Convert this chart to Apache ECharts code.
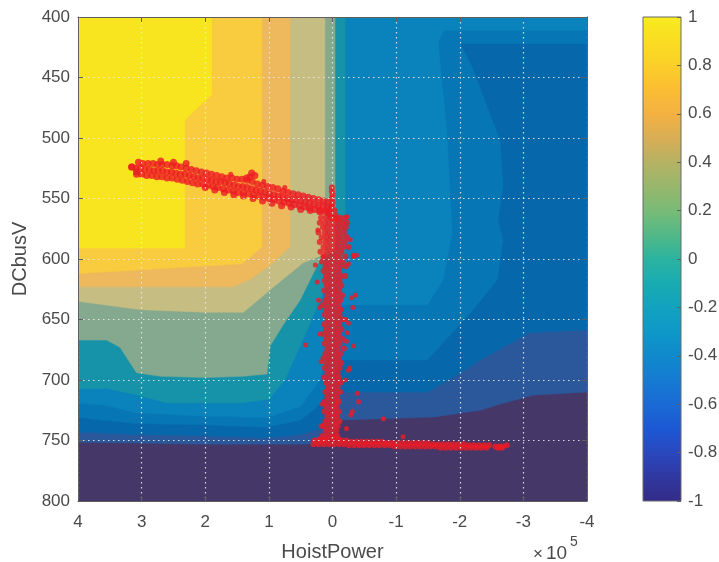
<!DOCTYPE html>
<html><head><meta charset="utf-8">
<script src="https://cdn.jsdelivr.net/npm/echarts@6/dist/echarts.min.js"></script>
<style>html,body{margin:0;padding:0;background:#fff}#c{width:719px;height:562px}</style>
</head><body><div id="c"></div>
<script>
// ---------- axes / tick labels ----------
const xTickLabels = [4, 3, 2, 1, 0, -1, -2, -3, -4];          // HoistPower (x 10^5)
const yTickLabels = [400, 450, 500, 550, 600, 650, 700, 750, 800]; // DCbusV
const colorbarTicks = [1, 0.8, 0.6, 0.4, 0.2, 0, -0.2, -0.4, -0.6, -0.8, -1];

// ---------- filled contour regions (superlevel sets, [HoistPower x1e5, DCbusV]) ----------
const regionLowest = [[4,400],[-4,400],[-4,800],[4,800]];
const regionDarkBlue = [[4,400],[-4,400],[-4,710],[-3.15,712.5],[-2.63,720],[-2.32,725],[-1.6,730.5],[-0.15,733],[0.1,752],[0.5,753],[1.03,753],[2,753],[3.1,752],[4,751.5]];
const regionBlue = [[4,400],[-4,400],[-4,658.6],[-3.1,661],[-2.32,683.5],[-1.9,698],[-1.49,710],[-0.15,710],[0.2,740],[0.5,745],[1.03,748],[2,746],[3.1,745],[4,743]];
const regionMidBlue = [[4,400],[-4,400],[-4,422],[-2.0,422],[-2.19,441],[-2.63,502],[-2.68,540],[-2.6,568],[-2.68,584],[-2.59,617],[-2.21,642],[-1.49,683.5],[-0.15,683.5],[0.2,720],[0.5,733],[1.03,739],[2,737],[3.1,736],[4,731]];
const regionLightBlue = [[4,400],[-4,400],[-4,411],[-1.75,411],[-1.66,421],[-1.8,496],[-1.88,578],[-1.74,617],[-1.49,638],[-0.15,638],[0.2,700],[0.5,722],[1.03,731],[2,730],[3.1,727],[3.55,721],[4,719]];
const regionTeal = [[4,400],[-0.2,400],[-0.2,598],[0.15,628],[0.45,665],[0.75,700],[1.0,716],[1.45,719],[2.6,719],[3.1,712],[3.55,707],[4,707]];
const regionSage = [[4,400],[-0.04,400],[-0.04,592],[0.2,601],[0.51,634],[0.77,654],[0.98,672],[1.03,695],[1.41,697],[2,698],[2.7,697],[3.08,694],[3.34,673],[3.55,667],[4,667]];
const regionKhaki = [[4,400],[0.12,400],[0.12,596],[0.46,603],[0.9,622],[1.4,644],[2,644],[3,642],[4,635]];
const regionOrange = [[4,400],[0.67,400],[0.67,590],[1.0,606],[1.3,617],[1.56,623],[4,623]];
const regionGold = [[4,400],[1.11,400],[1.11,590],[1.42,604],[4,612]];
const regionYellow = [[4,400],[1.9,400],[1.9,464],[2.32,485],[2.32,591],[4,591]];

// ---------- measured operating points [HoistPower x1e5, DCbusV] ----------
const bandCenter = [[3.15,524],[3.09,525],[3.02,525],[2.95,526],[2.88,526],[2.81,527],[2.74,527],[2.67,527],[2.6,528],[2.53,528],[2.46,529],[2.39,530],[2.32,530],[2.25,531],[2.18,532],[2.11,533],[2.04,533],[1.97,534],[1.9,535],[1.83,536],[1.76,536],[1.69,537],[1.62,538],[1.55,539],[1.48,540],[1.41,540],[1.34,541],[1.27,542],[1.2,543],[1.13,544],[1.06,545],[0.99,546],[0.92,547],[0.85,548],[0.78,549],[0.71,550],[0.64,551],[0.57,551],[0.5,552],[0.43,553],[0.36,554],[0.29,555],[0.22,556],[0.15,556],[0.08,557],[0.02,558]];
const bandUpper = [[3.05,520],[2.98,521],[2.9,521],[2.82,521],[2.75,522],[2.68,522],[2.6,522],[2.52,523],[2.45,523],[2.38,524],[2.3,525],[2.22,526],[2.14,527],[2.06,528],[1.98,529],[1.9,530],[1.82,531],[1.74,532],[1.66,533],[1.58,533],[1.5,534],[1.42,534],[1.34,535],[1.26,536],[1.18,538],[1.1,539],[1.02,540],[0.94,541],[0.86,542],[0.78,544],[0.7,545],[0.62,546],[0.54,547],[0.46,548],[0.38,549],[0.3,550],[0.22,551],[0.14,552],[0.07,553]];
const bandLower = [[3.08,530],[3.0,530],[2.92,531],[2.84,531],[2.76,532],[2.68,532],[2.6,533],[2.52,533],[2.44,534],[2.36,535],[2.28,536],[2.2,537],[2.12,538],[2.04,538],[1.96,539],[1.88,540],[1.8,541],[1.72,542],[1.64,543],[1.56,544],[1.48,545],[1.4,545],[1.32,546],[1.24,547],[1.16,548],[1.08,549],[1.0,550],[0.92,551],[0.84,552],[0.76,553],[0.68,554],[0.6,555],[0.52,556],[0.44,557],[0.36,558],[0.28,559],[0.2,560],[0.12,561],[0.05,562]];
const bandEdge = [[2.0,541],[1.85,543],[1.7,545],[1.55,547],[1.4,548],[1.25,550],[1.1,552],[0.95,554],[0.8,556],[0.65,557],[0.5,559],[0.35,560],[0.2,561],[1.3,532],[1.22,531],[1.27,529],[1.35,533],[2.3,521],[2.5,520],[2.7,519],[3.16,524],[3.08,528]];
const spikePoints = [[0.01,541],[0.01,544],[0.0,547],[0.01,550],[0.0,553],[0.01,556],[0.1,560],[0.05,563],[-0.03,560],[-0.05,564],[0.0,566],[-0.08,567]];
const columnRows = [
  [566,[0.18,0.1,0.03,-0.05,-0.12,-0.2]],[570,[0.2,0.12,0.05,-0.02,-0.09,-0.16,-0.23]],
  [574,[0.15,0.08,0.0,-0.07,-0.14,-0.21]],[578,[0.22,0.12,0.05,-0.03,-0.1,-0.18]],
  [582,[0.17,0.09,0.02,-0.06,-0.13,-0.22]],[586,[0.2,0.11,0.03,-0.04,-0.11,-0.19]],
  [590,[0.14,0.06,-0.02,-0.09,-0.17,-0.25]],[594,[0.19,0.1,0.02,-0.06,-0.14]],
  [598,[0.13,0.05,-0.03,-0.1,-0.2]],[602,[0.16,0.08,0.0,-0.08,-0.15]],
  [606,[0.11,0.04,-0.04,-0.12,-0.21]],[610,[0.14,0.06,-0.02,-0.1]],
  [614,[0.1,0.03,-0.05,-0.13,-0.2]],[618,[0.12,0.04,-0.04,-0.11]],
  [622,[0.09,0.02,-0.06,-0.14]],[626,[0.13,0.05,-0.03,-0.1]],
  [630,[0.08,0.0,-0.07,-0.15]],[634,[0.11,0.03,-0.05,-0.12]],
  [638,[0.15,0.07,-0.01,-0.09]],[642,[0.1,0.02,-0.06,-0.13]],
  [646,[0.12,0.04,-0.04,-0.11]],[650,[0.08,0.0,-0.08,-0.16]],
  [654,[0.13,0.05,-0.03,-0.1]],[658,[0.1,0.02,-0.06,-0.14]],
  [662,[0.14,0.06,-0.02,-0.09]],[666,[0.09,0.01,-0.07,-0.15]],
  [670,[0.12,0.04,-0.04,-0.11]],[674,[0.08,0.0,-0.08,-0.18]],
  [678,[0.11,0.03,-0.05,-0.12]],[682,[0.14,0.06,-0.02,-0.09]],
  [686,[0.09,0.01,-0.07,-0.14]],[690,[0.12,0.04,-0.04,-0.11]],
  [694,[0.08,0.0,-0.08]],[698,[0.13,0.05,-0.03,-0.1]],
  [702,[0.1,0.02,-0.06,-0.13]],[706,[0.07,0.0,-0.08]],
  [710,[0.11,0.03,-0.05,-0.12]],[714,[0.08,0.0,-0.07]],
  [718,[0.12,0.04,-0.04,-0.1]],[722,[0.09,0.01,-0.06]],
  [726,[0.13,0.05,-0.03,-0.1]],[730,[0.08,0.0,-0.07]],
  [734,[0.11,0.03,-0.05,-0.11]],[738,[0.14,0.06,-0.02,-0.08]],
  [742,[0.1,0.02,-0.06]],[746,[0.15,0.07,0.0,-0.07]],
  [749,[0.2,0.12,0.05,-0.02,-0.09]]
];
const lineUpper = [[0.28,750],[0.2,750],[0.12,750],[-0.14,750],[-0.22,750],[-0.3,751],[-0.38,751],[-0.46,751],[-0.54,751],[-0.62,751],[-0.7,751],[-0.78,751],[-0.86,752],[-0.94,752],[-1.02,752],[-1.1,752],[-1.18,752],[-1.26,752],[-1.34,752],[-1.42,752],[-1.5,752],[-1.58,753],[-1.66,753],[-1.74,753],[-1.82,753],[-1.9,753],[-1.98,753],[-2.06,753],[-2.14,754],[-2.22,754],[-2.3,754],[-2.38,754],[-2.46,754]];
const lineLower = [[0.3,753],[0.22,753],[0.14,753],[0.06,753],[-0.02,753],[-0.1,753],[-0.18,753],[-0.26,754],[-0.34,754],[-0.42,754],[-0.5,754],[-0.58,754],[-0.66,754],[-0.74,754],[-0.82,754],[-0.9,754],[-0.98,755],[-1.06,755],[-1.14,755],[-1.22,755],[-1.3,755],[-1.38,755],[-1.46,755],[-1.54,755],[-1.62,755],[-1.7,756],[-1.78,756],[-1.86,756],[-1.94,756],[-2.02,756],[-2.1,756],[-2.18,756],[-2.26,756],[-2.34,756],[-2.42,756]];
const lineEnd = [[-2.56,755],[-2.62,755],[-2.68,755],[-2.74,754],[-2.6,756],[-2.66,756]];
const outlierPoints = [[0.42,671],[0.27,605],[0.24,619],[-0.23,565],[-0.28,584],[-0.38,597],[-0.33,597],[-0.25,604],[0.23,576],[0.15,598],[-0.8,732],[-1.11,747],[-0.39,711],[-0.41,718],[-0.31,726],[-0.29,729],[-0.33,672],[-0.25,692],[-0.27,690],[-0.23,661],[-0.36,630],[-0.3,632],[-0.32,640],[-0.21,650],[0.2,640],[0.22,634],[0.2,662],[0.18,685],[0.16,720],[0.18,738],[-0.2,700],[-0.22,740],[-0.22,668],[-0.25,653],[1.08,536],[0.75,541],[1.6,530],[-0.33,598]];

// ---------- styles ----------
const fillRegions = [regionLowest, regionDarkBlue, regionBlue, regionMidBlue, regionLightBlue, regionTeal, regionSage, regionKhaki, regionOrange, regionGold, regionYellow];
const fillColors = ['#463769','#2a589b','#0668aa','#0676b4','#0a82bb','#1693a8','#84a98e','#c6bd82','#eeb85c','#f9cb3e','#f8e51f'];
const colorbarStops = [
  [1,'#f7ec1f'],[0.9,'#fadd22'],[0.8,'#fbcf28'],[0.7,'#fbbd33'],[0.6,'#f4b142'],[0.5,'#d9ae55'],
  [0.4,'#b6b264'],[0.3,'#98b76c'],[0.2,'#78bb77'],[0.1,'#52b987'],[0,'#2cb3a0'],[-0.1,'#18acb1'],
  [-0.2,'#12a2bf'],[-0.3,'#0e98c9'],[-0.4,'#1089cc'],[-0.5,'#157bd2'],[-0.6,'#1a6ad4'],[-0.7,'#1c58d4'],
  [-0.8,'#2a47bd'],[-0.9,'#3038a0'],[-1,'#342b88']
];

const bandPoints = [].concat(bandCenter, bandUpper, bandLower, bandEdge);
const columnPoints = [].concat(spikePoints);
columnRows.forEach(([v, xs]) => xs.forEach(x => columnPoints.push([x, v])));
const linePoints = [].concat(lineUpper, lineLower, lineEnd);

const TXT = '#4a4a4a', AX = '#5f5f5f', FONT = '"Liberation Sans", Arial, sans-serif', RED = '#ec1c24';
const gridLine = { show: true, lineStyle: { color: 'rgba(235,235,235,0.9)', width: 1.2, type: [1.5, 3.5] } };
const frameLine = { show: true, onZero: false, lineStyle: { color: AX, width: 1 } };
const inTick = { show: true, inside: true, length: 5, lineStyle: { color: AX } };

const chart = echarts.init(document.getElementById('c'), null, { renderer: 'canvas' });
chart.setOption({
  animation: false,
  textStyle: { fontFamily: FONT },
  grid: [
    { left: 78, top: 17, width: 509, height: 484, containLabel: false, outerBoundsMode: 'none' },
    { left: 643, top: 17, width: 38, height: 484, containLabel: false, outerBoundsMode: 'none' }
  ],
  xAxis: [
    { type: 'value', gridIndex: 0, min: xTickLabels[8], max: xTickLabels[0], interval: 1, inverse: true, z: 10,
      name: 'HoistPower', nameLocation: 'middle', nameGap: 41,
      nameTextStyle: { fontSize: 20, color: TXT, fontFamily: FONT },
      axisLine: frameLine, axisTick: inTick,
      axisLabel: { fontSize: 17, color: TXT, margin: 13, fontFamily: FONT },
      splitLine: gridLine },
    { type: 'value', gridIndex: 0, position: 'top', min: -4, max: 4, interval: 1, inverse: true, z: 10,
      axisLine: frameLine, axisTick: inTick,
      axisLabel: { show: false }, splitLine: { show: false } },
    { type: 'value', gridIndex: 1, min: 0, max: 1, show: false }
  ],
  yAxis: [
    { type: 'value', gridIndex: 0, min: yTickLabels[0], max: yTickLabels[8], interval: 50, inverse: true, z: 10,
      name: 'DCbusV', nameLocation: 'middle', nameGap: 47, nameRotate: 90,
      nameTextStyle: { fontSize: 20, color: TXT, fontFamily: FONT },
      axisLine: frameLine, axisTick: inTick,
      axisLabel: { fontSize: 17, color: TXT, margin: 8, fontFamily: FONT },
      splitLine: gridLine },
    { type: 'value', gridIndex: 0, position: 'right', min: 400, max: 800, interval: 50, inverse: true, z: 10,
      axisLine: frameLine, axisTick: inTick,
      axisLabel: { show: false }, splitLine: { show: false } },
    { type: 'value', gridIndex: 1, position: 'right', min: colorbarTicks[10], max: colorbarTicks[0], interval: 0.2, z: 10,
      axisLine: { show: false, onZero: false },
      axisTick: { show: true, inside: true, length: 4, lineStyle: { color: AX } },
      axisLabel: { fontSize: 17, color: TXT, margin: 7, fontFamily: FONT,
        formatter: v => String(parseFloat(v.toFixed(1))) },
      splitLine: { show: false } }
  ],
  series: [
    { type: 'custom', xAxisIndex: 0, yAxisIndex: 0, z: 1, clip: true, silent: true,
      data: fillRegions.map((r, i) => [r[0][0], r[0][1], i]),
      renderItem: (params, api) => {
        const i = api.value(2);
        return { type: 'polygon', shape: { points: fillRegions[i].map(p => api.coord(p)) },
                 style: { fill: fillColors[i], stroke: fillColors[i], lineWidth: 0.5 } };
      } },
    { type: 'scatter', xAxisIndex: 0, yAxisIndex: 0, z: 3, silent: true,
      symbol: 'circle', symbolSize: 7, itemStyle: { color: RED }, data: bandPoints },
    { type: 'scatter', xAxisIndex: 0, yAxisIndex: 0, z: 3, silent: true,
      symbol: 'circle', symbolSize: 6, itemStyle: { color: RED }, data: columnPoints },
    { type: 'scatter', xAxisIndex: 0, yAxisIndex: 0, z: 3, silent: true,
      symbol: 'circle', symbolSize: 6, itemStyle: { color: RED }, data: linePoints },
    { type: 'scatter', xAxisIndex: 0, yAxisIndex: 0, z: 3, silent: true,
      symbol: 'circle', symbolSize: 5, itemStyle: { color: RED }, data: outlierPoints },
    { type: 'custom', xAxisIndex: 2, yAxisIndex: 2, z: 1, silent: true,
      data: [[0, colorbarTicks[10]]],
      renderItem: (params, api) => {
        const tl = api.coord([0, colorbarTicks[0]]), br = api.coord([1, colorbarTicks[10]]);
        return { type: 'rect', shape: { x: tl[0], y: tl[1], width: br[0] - tl[0], height: br[1] - tl[1] },
          style: { fill: new echarts.graphic.LinearGradient(0, 0, 0, 1,
                     colorbarStops.map(([v, c]) => ({ offset: (1 - v) / 2, color: c }))),
                   stroke: '#6a6a6a', lineWidth: 1 } };
      } }
  ],
  graphic: [
    { type: 'text', left: 533, top: 546, style: { text: '×', font: '17px ' + FONT, fill: TXT } },
    { type: 'text', left: 546, top: 544, style: { text: '10', font: '19px ' + FONT, fill: TXT } },
    { type: 'text', left: 570, top: 535, style: { text: '5', font: '14px ' + FONT, fill: TXT } }
  ]
});
</script>
</body></html>
